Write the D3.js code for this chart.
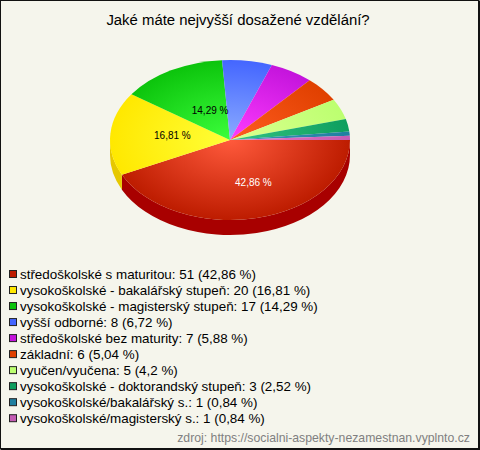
<!DOCTYPE html>
<html><head><meta charset="utf-8">
<script src="https://cdn.jsdelivr.net/npm/d3@7/dist/d3.min.js"></script>
<style>html,body{margin:0;padding:0;background:#fff}svg{display:block}text{font-family:"Liberation Sans",Arial,sans-serif}</style>
</head><body><svg id="c" width="480" height="450"></svg>
<script>
const titleText = "Jaké máte nejvyšší dosažené vzdělání?";
const sourceText = "zdroj: https://socialni-aspekty-nezamestnan.vyplnto.cz";
const categories = ["středoškolské s maturitou","vysokoškolské - bakalářský stupeň","vysokoškolské - magisterský stupeň","vyšší odborné","středoškolské bez maturity","základní","vyučen/vyučena","vysokoškolské - doktorandský stupeň","vysokoškolské/bakalářský s.","vysokoškolské/magisterský s."];
const counts = [51,20,17,8,7,6,5,3,1,1];
const percents = ["42,86","16,81","14,29","6,72","5,88","5,04","4,2","2,52","0,84","0,84"];
const edgeColors = ["#bd1c00","#ffe800","#0cc40c","#4466ff","#c414dc","#e04000","#bcff70","#0e9e5e","#1f7fa0","#c45cb4"];
const innerColors = ["#ff5a3c","#ffff38","#3cff3c","#8cacff","#ff3cff","#ff5c20","#dcff90","#34c484","#3c94bc","#e87cc8"];
const sideColors = ["#a80000","#e6c800","#0a9a0a","#3050c0","#9a10ac","#b03000","#94c858","#0a7a48","#186480","#9a488c"];
const shownLabels = [0,1,2];

const W=480,H=450,cx=230,cy=140,rx=120,ry=80,depth=15;
const labelNudge=[[9,0],[7,-1.5],[12,8]];
const svg=d3.select("#c");
svg.append("rect").attr("width",W).attr("height",H).attr("fill","#f5f5ec");
svg.append("rect").attr("x",0.5).attr("y",0.5).attr("width",W-1.5).attr("height",H-1.5).attr("fill","none").attr("stroke","#111").attr("stroke-width",1);
svg.append("path").attr("d",`M${W-1} 1V${H-1}H1`).attr("fill","none").attr("stroke","#111").attr("stroke-width",2);

svg.append("text").attr("x",238).attr("y",24.5).attr("text-anchor","middle").attr("font-size",14.9).attr("fill","#000").text(titleText);

const pieData=d3.pie().sort(null).startAngle(Math.PI/2).endAngle(Math.PI/2+2*Math.PI)(counts);
const pt=a=>[cx+rx*Math.sin(a),cy-ry*Math.cos(a)];
const defs=svg.append("defs");
const g=svg.append("g");

// side wall, visible for the lower half of the ellipse
pieData.forEach((d,i)=>{
  const a0=Math.max(d.startAngle,Math.PI/2), a1=Math.min(d.endAngle,3*Math.PI/2);
  if(a1<=a0) return;
  const [x0,y0]=pt(a0),[x1,y1]=pt(a1);
  g.append("path").attr("fill",sideColors[i])
   .attr("d",`M${x0} ${y0}A${rx} ${ry} 0 0 1 ${x1} ${y1}V${y1+depth}A${rx} ${ry} 0 0 0 ${x0} ${y0+depth}Z`);
});

// top faces
const arcGen=d3.arc().innerRadius(0).outerRadius(rx);
const face=g.append("g").attr("transform",`translate(${cx},${cy}) scale(1,${ry/rx})`);
pieData.forEach((d,i)=>{
  const gr=defs.append("radialGradient").attr("id","g"+i).attr("gradientUnits","userSpaceOnUse").attr("cx",0).attr("cy",0).attr("r",rx);
  gr.append("stop").attr("offset",0).attr("stop-color",innerColors[i]);
  gr.append("stop").attr("offset",1).attr("stop-color",edgeColors[i]);
  face.append("path").attr("d",arcGen(d)).attr("fill",`url(#g${i})`);
});

// value labels
const labelPos=d3.arc().innerRadius(0).outerRadius(rx*1.08);
shownLabels.forEach((i,k)=>{
  const [lx,ly]=labelPos.centroid(pieData[i]);
  svg.append("text").attr("x",cx+lx+labelNudge[k][0]).attr("y",cy+ly*ry/rx+labelNudge[k][1]+3.6)
    .attr("text-anchor","middle").attr("font-size",10)
    .attr("fill",i===0?"#fff":"#000").text(percents[i]+" %");
});

// legend
const rowY=d3.scalePoint().domain(d3.range(categories.length)).range([273.5,417.7]);
const leg=svg.append("g").selectAll("g").data(categories).join("g").attr("transform",(d,i)=>`translate(0,${rowY(i)})`);
leg.append("rect").attr("x",9.5).attr("y",-3).attr("width",7).attr("height",7).attr("fill",(d,i)=>edgeColors[i]).attr("stroke","#222").attr("stroke-width",1);
leg.append("text").attr("x",20).attr("y",5).attr("font-size",13.4).attr("fill","#000").text((d,i)=>`${d}: ${counts[i]} (${percents[i]} %)`);

svg.append("text").attr("x",470).attr("y",442).attr("text-anchor","end").attr("font-size",12.25).attr("fill","#808080").text(sourceText);
</script></body></html>
